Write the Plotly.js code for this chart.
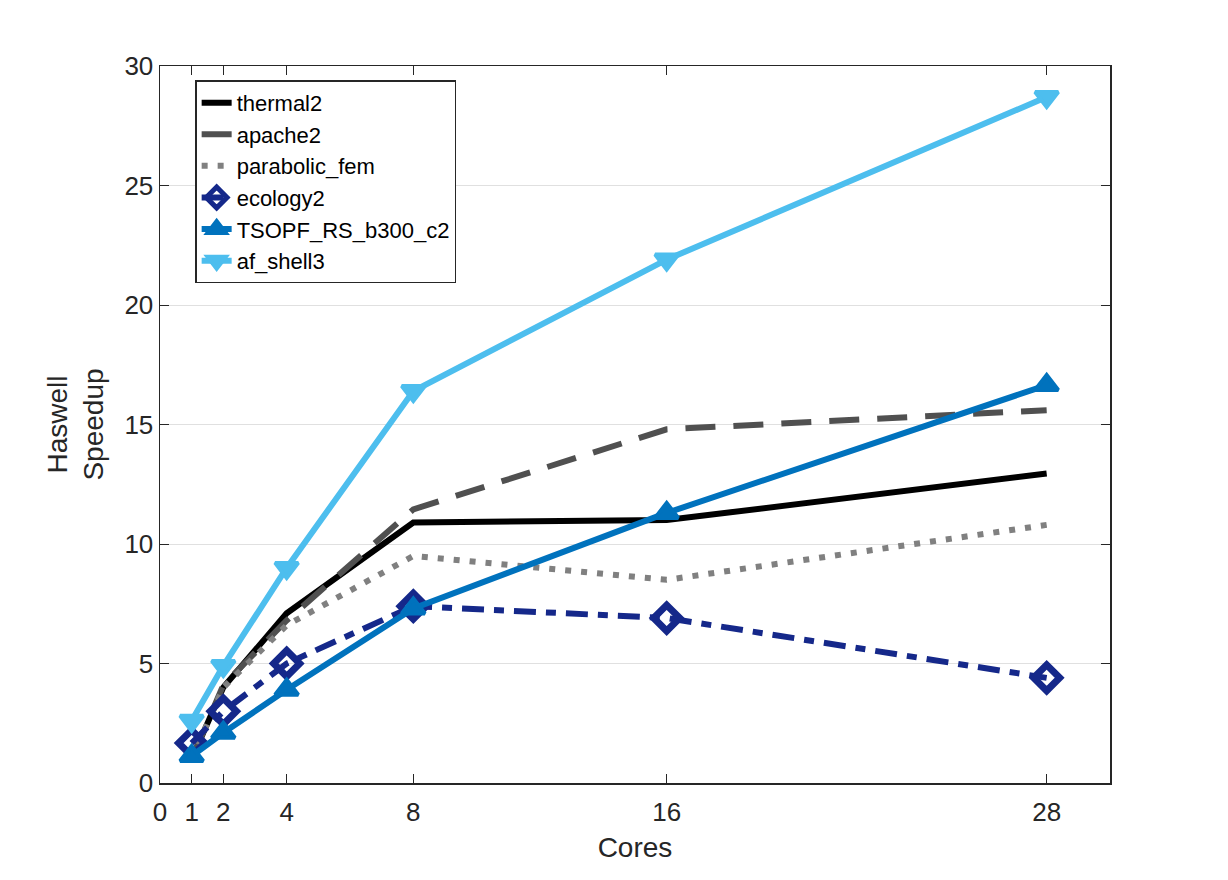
<!DOCTYPE html>
<html><head><meta charset="utf-8">
<script src="https://cdn.plot.ly/plotly-3.0.1.min.js"></script>
<style>body{margin:0;background:#fff}#plot{width:1228px;height:880px}</style>
</head><body><div id="plot"></div>
<script>
const cores = [1, 2, 4, 8, 16, 28];
const xTickVals = [0, 1, 2, 4, 8, 16, 28];
const yTickVals = [0, 5, 10, 15, 20, 25, 30];
const thermal2 = [1.0, 4.0, 7.1, 10.9, 11.0, 12.95];
const apache2 = [1.0, 4.1, 6.8, 11.45, 14.8, 15.6];
const parabolic_fem = [1.0, 4.0, 6.6, 9.5, 8.5, 10.8];
const ecology2 = [1.67, 3.0, 5.0, 7.4, 6.9, 4.4];
const tsopf = [1.13, 2.1, 3.9, 7.3, 11.3, 16.65];
const af_shell3 = [2.6, 4.9, 9.0, 16.4, 21.9, 28.7];

const traces = [
  {x: cores, y: thermal2, name: 'thermal2', mode: 'lines', line: {color: '#000000', width: 6}},
  {x: cores, y: apache2, name: 'apache2', mode: 'lines', line: {color: '#505050', width: 6, dash: '30px,18px'}},
  {x: cores, y: parabolic_fem, name: 'parabolic_fem', mode: 'lines', line: {color: '#808080', width: 6, dash: '6px,10px'}},
  {x: cores, y: ecology2, name: 'ecology2', mode: 'lines+markers', line: {color: '#15288A', width: 6, dash: '22px,10px,10px,10px'},
   marker: {symbol: 'diamond-open', size: 20, color: '#15288A', line: {width: 7, color: '#15288A'}}},
  {x: cores, y: tsopf, name: 'TSOPF_RS_b300_c2', mode: 'lines+markers', line: {color: '#0072BD', width: 6},
   marker: {symbol: 'triangle-up', size: 20, color: '#0072BD', line: {width: 4, color: '#0072BD'}}},
  {x: cores, y: af_shell3, name: 'af_shell3', mode: 'lines+markers', line: {color: '#4DBEEE', width: 6},
   marker: {symbol: 'triangle-down', size: 20, color: '#4DBEEE', line: {width: 4, color: '#4DBEEE'}}}
];

const layout = {
  width: 1228, height: 880,
  margin: {l: 160, r: 118, t: 66, b: 97},
  paper_bgcolor: '#ffffff', plot_bgcolor: '#ffffff',
  font: {family: 'Liberation Sans, Arial, sans-serif', size: 26, color: '#262626'},
  showlegend: true,
  legend: {x: 0.037, y: 0.98, xanchor: 'left', yanchor: 'top', bgcolor: '#ffffff',
    bordercolor: '#262626', borderwidth: 1.5, font: {size: 22, color: '#000'}, tracegroupgap: 0},
  xaxis: {
    range: [0, 30], tickmode: 'array', tickvals: xTickVals, ticktext: xTickVals.map(String),
    ticks: 'inside', ticklen: 9, tickcolor: '#262626', tickwidth: 1,
    showline: true, linecolor: '#262626', linewidth: 1.5, mirror: 'ticks',
    showgrid: false, zeroline: false, tickfont: {size: 26}, ticklabelstandoff: 5,
    title: {text: 'Cores', font: {size: 28, color: '#262626'}, standoff: 11}
  },
  yaxis: {
    range: [0, 30], tickmode: 'array', tickvals: yTickVals,
    ticks: 'inside', ticklen: 9, tickcolor: '#262626', tickwidth: 1,
    showline: true, linecolor: '#262626', linewidth: 1.5, mirror: 'ticks',
    showgrid: true, gridcolor: '#e0e0e0', gridwidth: 1, zeroline: false, tickfont: {size: 26},
    title: {text: 'Haswell<br>Speedup', font: {size: 28, color: '#262626'}, standoff: 12}
  }
};

Plotly.newPlot('plot', traces, layout, {displayModeBar: false, staticPlot: true});
</script>
</body></html>
